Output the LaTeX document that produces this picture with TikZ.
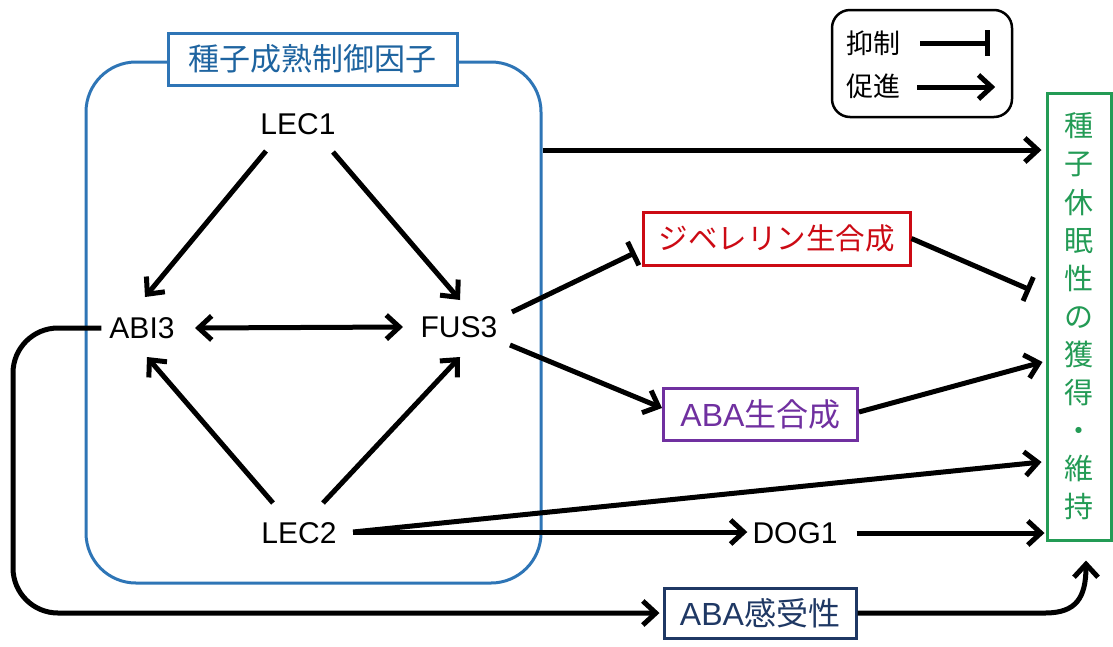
\documentclass[tikz,border=0pt]{standalone}
\usepackage{fontspec}
\setmainfont{Liberation Sans}
\newfontfamily\jp{Noto Sans CJK JP}
\usetikzlibrary{arrows.meta,calc}
\definecolor{blueC}{RGB}{46,117,182}
\definecolor{blueT}{RGB}{30,100,160}
\definecolor{redC}{RGB}{204,10,20}
\definecolor{purpC}{RGB}{112,48,160}
\definecolor{navyC}{RGB}{31,56,100}
\definecolor{greenC}{RGB}{35,155,85}
\tikzset{
  conn/.style={line width=5pt, draw=black},
  arr/.style={conn, -{Straight Barb[length=13pt,width=24pt,line width=5pt]}},
  darr/.style={conn, {Straight Barb[length=13pt,width=24pt,line width=5pt]}-{Straight Barb[length=13pt,width=24pt,line width=5pt]}},
  tbar/.style={conn, -{Bar[width=26pt,line width=5pt]}},
  gene/.style={font=\fontsize{30}{36}\selectfont, inner sep=0pt},
  procbox/.style={draw, line width=3pt, fill=white, inner sep=0pt, font=\fontsize{32}{36}\selectfont},
}
\begin{document}
\begin{tikzpicture}[x=1pt,y=-1pt]
\useasboundingbox (0,0) rectangle (1113,646);
% seed maturation box
\node[draw=blueC, line width=3pt, rounded corners=50pt, minimum width=455pt, minimum height=521pt, inner sep=0pt] (mat) at (313.5,322.5) {};
\node[draw=blueC, fill=white, line width=3pt, minimum width=289pt, minimum height=52pt, inner sep=0pt, text=blueT, font=\jp\fontsize{31}{36}\selectfont] (title) at (312.5,59) {種子成熟制御因子};
% genes
\node[gene] (lec1) at (298,124) {LEC1};
\node[gene] (abi3) at (142,328) {ABI3};
\node[gene] (fus3) at (459,327) {FUS3};
\node[gene] (lec2) at (299,533) {LEC2};
\node[gene] (dog1) at (795,533) {DOG1};
% process boxes
\node[procbox, draw=redC, text=redC, minimum width=267pt, minimum height=53pt, font=\jp\fontsize{29.5}{36}\selectfont] (gib) at (776.5,238.5) {ジベレリン生合成};
\node[procbox, draw=purpC, text=purpC, minimum width=194pt, minimum height=52pt] (aba) at (760.5,414) {ABA{\jp 生合成}};
\node[procbox, draw=navyC, text=navyC, minimum width=192pt, minimum height=50pt] (sens) at (760,613) {ABA{\jp 感受性}};
% dormancy box
\node[draw=greenC, line width=3pt, fill=white, text=greenC, minimum width=64pt, minimum height=447pt, inner sep=0pt, align=center, font=\jp\fontsize{29}{38.1}\selectfont] (dorm) at (1079,316.5) {種\\子\\休\\眠\\性\\の\\獲\\得\\・\\維\\持};
% legend
\node[draw, line width=2.5pt, rounded corners=18pt, minimum width=180pt, minimum height=107pt, inner sep=0pt] (legend) at (922,63.5) {};
\node[inner sep=0pt, font=\jp\fontsize{27}{32}\selectfont] (inh) at (873,43) {抑制};
\node[inner sep=0pt, font=\jp\fontsize{27}{32}\selectfont] (pro) at (873,86) {促進};
\draw[tbar] ($(inh.east)+(20,0)$) -- ($(inh.east)+(90,0)$);
\draw[arr] ($(pro.east)+(17,1)$) -- ($(pro.east)+(95,1)$);
% network arrows
\draw[arr] ($(lec1)+(-32,27)$) -- ($(abi3)+(3,-31)$);
\draw[arr] ($(lec1)+(35,28)$) -- ($(fus3)+(1,-27)$);
\draw[arr] ($(lec2)+(-26,-30)$) -- ($(abi3)+(5,29)$);
\draw[arr] ($(lec2)+(24,-30)$) -- ($(fus3)+(1,30)$);
\draw[darr] ($(abi3)+(53,0)$) -- ($(fus3)+(-56,0)$);
% outputs
\draw[arr] ($(mat.east)+(0,-172.5)$) -- ($(dorm.west)+(-4,-166.5)$);
\draw[tbar] ($(fus3)+(53,-15)$) -- ($(gib.west)+(-6,14)$);
\draw[tbar] (gib.east) -- ($(dorm.west)+(-15,-26.5)$);
\draw[arr] ($(fus3)+(51,18)$) -- ($(aba.west)+(0,-6)$);
\draw[arr] ($(aba.east)+(0,-2)$) -- ($(dorm.west)+(-3,45.5)$);
\draw[arr] ($(lec2)+(54,-1)$) -- ($(dorm.west)+(-4,145.5)$);
\draw[arr] ($(lec2)+(54,-1)$) -- ($(dog1.west)+(-5,-1)$);
\draw[arr] ($(dog1.east)+(19,0)$) -- ($(dorm.west)+(-1,216.5)$);
\draw[arr, rounded corners=45pt] ($(abi3.west)+(-8,0)$) -| (13,613) -- ($(sens.west)+(-3,0)$);
\draw[arr] (sens.east) -- (1045,613) .. controls (1076,613) and (1086,598) .. ($(dorm.south)+(7,19)$);
\end{tikzpicture}
\end{document}
